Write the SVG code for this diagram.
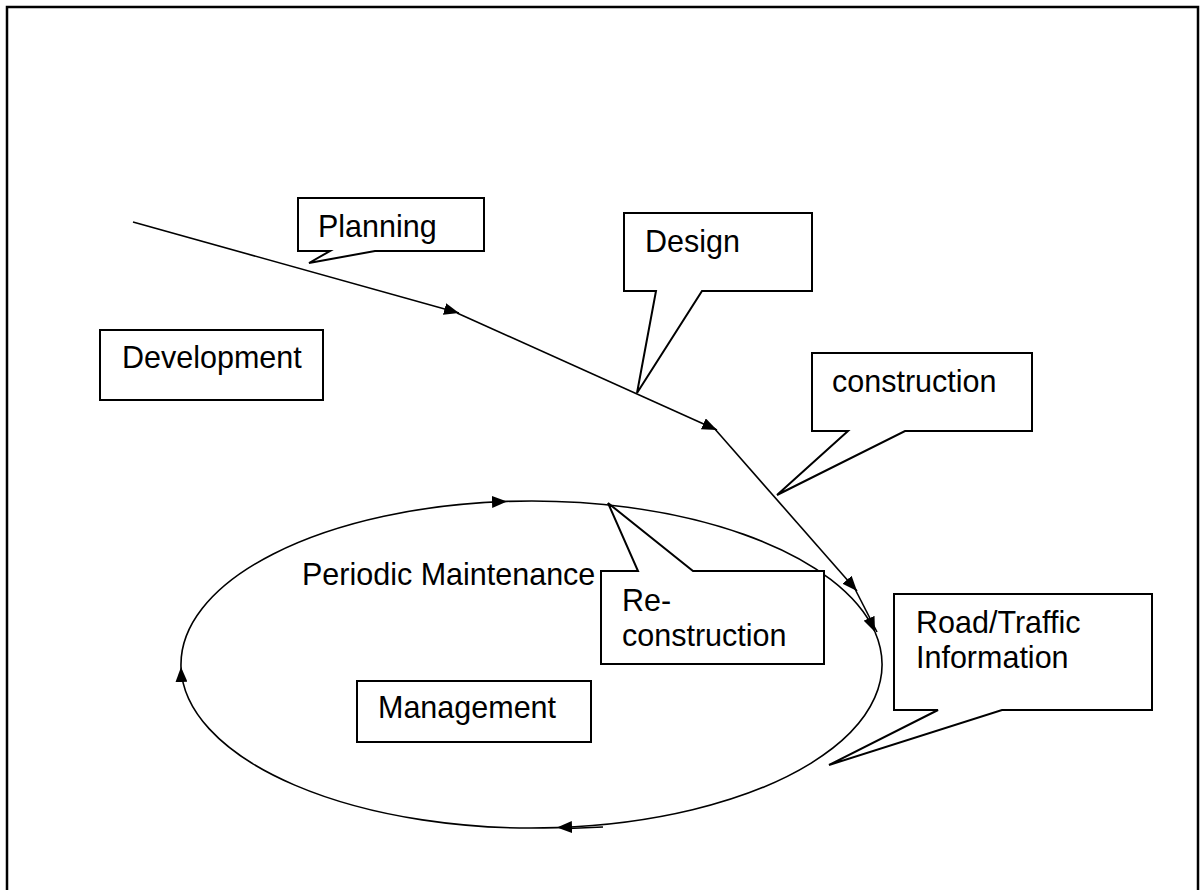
<svg xmlns="http://www.w3.org/2000/svg" width="1200" height="890" viewBox="0 0 1200 890">
<style>
  .box { fill: #ffffff; stroke: #000000; stroke-width: 2; }
  .ln { fill: none; stroke: #000000; stroke-width: 1.6; }
  .t { font-family: "Liberation Sans", Arial, sans-serif; font-size: 30.5px; fill: #000000; }
</style>
<defs>
  <marker id="arr" markerUnits="userSpaceOnUse" markerWidth="16" markerHeight="12" refX="15" refY="6" orient="auto">
    <path d="M0,0 L15,6 L0,12 z" fill="#000000"/>
  </marker>
</defs>
<rect x="7" y="7" width="1191" height="895" fill="#ffffff" stroke="#000000" stroke-width="2.5"/>
<g id="connectors">
  <path class="ln" d="M133,222 L459,313" marker-end="url(#arr)"/>
  <path class="ln" d="M457,313 L717,430" marker-end="url(#arr)"/>
  <path class="ln" d="M714,428 L857,591" marker-end="url(#arr)"/>
  <path class="ln" d="M855,589 L877,632"/>
  <path class="ln" d="M181,667 A350.5,163.5 0 0 1 507,501.4" marker-end="url(#arr)"/>
  <path class="ln" d="M507,501.4 A350.5,163.5 0 0 1 875,632" marker-end="url(#arr)"/>
  <path class="ln" d="M875,632 A350.5,163.5 0 0 1 557,827.6" marker-end="url(#arr)"/>
  <path class="ln" d="M557,827.6 A350.5,163.5 0 0 1 181,667" marker-end="url(#arr)"/>
  <path class="ln" d="M603,827 L568,828.5"/>
</g>
<g id="planning">
  <path class="box" d="M298,198 H484 V251 H375 L309,263 L330,251 H298 Z"/>
  <text class="t" x="318" y="237">Planning</text>
</g>
<g id="design">
  <path class="box" d="M624,213 H812 V291 H702 L637,393 L656,291 H624 Z"/>
  <text class="t" x="645" y="252">Design</text>
</g>
<g id="construction">
  <path class="box" d="M812,353 H1032 V431 H905 L777,495 L848,431 H812 Z"/>
  <text class="t" x="832" y="392">construction</text>
</g>
<g id="development">
  <rect class="box" x="100" y="330" width="223" height="70"/>
  <text class="t" x="122" y="368">Development</text>
</g>
<g id="periodic-maintenance">
  <text class="t" x="302" y="585">Periodic Maintenance</text>
</g>
<g id="reconstruction">
  <path class="box" d="M601,571 H638 L608,503 L693,571 H824 V664 H601 Z"/>
  <text class="t" x="622" y="611">Re-</text>
  <text class="t" x="622" y="646">construction</text>
</g>
<g id="road-traffic">
  <path class="box" d="M894,594 H1152 V710 H1002 L829,765 L938,710 H894 Z"/>
  <text class="t" x="916" y="633">Road/Traffic</text>
  <text class="t" x="916" y="668">Information</text>
</g>
<g id="management">
  <rect class="box" x="357" y="681" width="234" height="61"/>
  <text class="t" x="378" y="718">Management</text>
</g>
</svg>
